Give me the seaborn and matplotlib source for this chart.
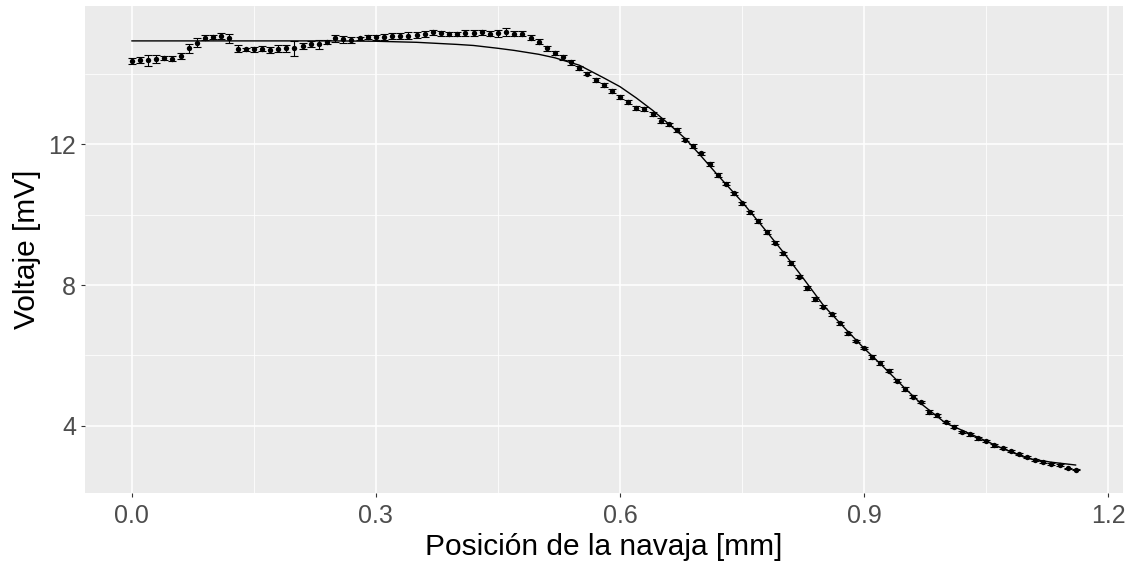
import numpy as np
import pandas as pd
import matplotlib
matplotlib.use("Agg")
import matplotlib.pyplot as plt
from matplotlib.ticker import MultipleLocator
import seaborn as sns

# ---- data ----
posicion = [
    0.00, 0.01, 0.02, 0.03, 0.04, 0.05, 0.06, 0.07, 0.08, 0.09,
    0.10, 0.11, 0.12, 0.13, 0.14, 0.15, 0.16, 0.17, 0.18, 0.19,
    0.20, 0.21, 0.22, 0.23, 0.24, 0.25, 0.26, 0.27, 0.28, 0.29,
    0.30, 0.31, 0.32, 0.33, 0.34, 0.35, 0.36, 0.37, 0.38, 0.39,
    0.40, 0.41, 0.42, 0.43, 0.44, 0.45, 0.46, 0.47, 0.48, 0.49,
    0.50, 0.51, 0.52, 0.53, 0.54, 0.55, 0.56, 0.57, 0.58, 0.59,
    0.60, 0.61, 0.62, 0.63, 0.64, 0.65, 0.66, 0.67, 0.68, 0.69,
    0.70, 0.71, 0.72, 0.73, 0.74, 0.75, 0.76, 0.77, 0.78, 0.79,
    0.80, 0.81, 0.82, 0.83, 0.84, 0.85, 0.86, 0.87, 0.88, 0.89,
    0.90, 0.91, 0.92, 0.93, 0.94, 0.95, 0.96, 0.97, 0.98, 0.99,
    1.00, 1.01, 1.02, 1.03, 1.04, 1.05, 1.06, 1.07, 1.08, 1.09,
    1.10, 1.11, 1.12, 1.13, 1.14, 1.15, 1.16,
]
voltaje = [
    14.36, 14.38, 14.38, 14.42, 14.45, 14.43, 14.51, 14.72, 14.88, 15.02,
    15.05, 15.07, 15.00, 14.71, 14.69, 14.69, 14.71, 14.68, 14.71, 14.72,
    14.72, 14.79, 14.83, 14.83, 14.89, 15.00, 14.97, 14.95, 15.00, 15.04,
    15.03, 15.04, 15.07, 15.07, 15.08, 15.09, 15.12, 15.17, 15.15, 15.13,
    15.12, 15.16, 15.15, 15.17, 15.14, 15.15, 15.18, 15.14, 15.13, 15.02,
    14.90, 14.72, 14.59, 14.46, 14.32, 14.16, 14.00, 13.81, 13.67, 13.51,
    13.34, 13.19, 13.02, 13.00, 12.86, 12.67, 12.56, 12.40, 12.13, 11.95,
    11.74, 11.43, 11.12, 10.88, 10.60, 10.32, 10.06, 9.82, 9.50, 9.20,
    8.90, 8.62, 8.24, 7.91, 7.61, 7.38, 7.17, 6.91, 6.63, 6.41,
    6.21, 5.95, 5.79, 5.57, 5.28, 5.05, 4.83, 4.68, 4.39, 4.30,
    4.11, 3.98, 3.84, 3.76, 3.65, 3.56, 3.45, 3.37, 3.29, 3.21,
    3.12, 3.04, 2.98, 2.91, 2.89, 2.80, 2.76,
]
error = [
    0.095, 0.09, 0.15, 0.11, 0.06, 0.06, 0.08, 0.12, 0.13, 0.07,
    0.06, 0.08, 0.12, 0.10, 0.05, 0.07, 0.07, 0.09, 0.10, 0.10,
    0.21, 0.08, 0.085, 0.12, 0.06, 0.10, 0.11, 0.08, 0.05, 0.06,
    0.08, 0.08, 0.08, 0.09, 0.10, 0.09, 0.08, 0.07, 0.07, 0.06,
    0.06, 0.08, 0.08, 0.08, 0.08, 0.10, 0.11, 0.07, 0.07, 0.07,
    0.07, 0.07, 0.06, 0.08, 0.07, 0.06, 0.05, 0.06, 0.06, 0.05,
    0.05, 0.06, 0.05, 0.05, 0.05, 0.06, 0.05, 0.05, 0.05, 0.05,
    0.04, 0.05, 0.05, 0.05, 0.05, 0.05, 0.05, 0.05, 0.05, 0.04,
    0.05, 0.05, 0.04, 0.05, 0.05, 0.04, 0.05, 0.04, 0.05, 0.04,
    0.04, 0.05, 0.05, 0.04, 0.04, 0.05, 0.04, 0.04, 0.05, 0.04,
    0.04, 0.04, 0.03, 0.04, 0.04, 0.03, 0.04, 0.03, 0.03, 0.03,
    0.03, 0.03, 0.03, 0.03, 0.03, 0.02, 0.02,
]

# fitted curve
ajuste_x = [0.00, 0.10, 0.20, 0.25, 0.30, 0.35, 0.40, 0.42, 0.45, 0.47,
            0.50, 0.52, 0.54, 0.55, 0.57, 0.58, 0.60, 0.62, 0.64, 0.66,
            0.68, 0.70, 0.72, 0.75, 0.78, 0.80, 0.82, 0.85, 0.88, 0.90,
            0.92, 0.95, 0.97, 1.00, 1.02, 1.05, 1.07, 1.10, 1.13, 1.16]
ajuste_y = [14.93, 14.93, 14.93, 14.93, 14.92, 14.89, 14.83, 14.80, 14.72, 14.66,
            14.55, 14.45, 14.31, 14.24, 14.00, 13.88, 13.63, 13.31, 12.96, 12.57,
            12.16, 11.65, 11.12, 10.36, 9.52, 8.95, 8.35, 7.42, 6.68, 6.20,
            5.76, 5.07, 4.63, 4.08, 3.88, 3.57, 3.36, 3.08, 2.97, 2.89]

x_ticks = [0.0, 0.3, 0.6, 0.9, 1.2]
x_ticklabels = ["0.0", "0.3", "0.6", "0.9", "1.2"]
y_ticks = [4, 8, 12]
y_ticklabels = ["4", "8", "12"]

df = pd.DataFrame({"x": posicion, "v": voltaje, "err": error})
fit = pd.DataFrame({"x": ajuste_x, "v": ajuste_y})

# ---- style (ggplot2 theme_gray look) ----
sns.set_theme(style="darkgrid", rc={
    "axes.facecolor": "#EBEBEB",
    "grid.color": "white",
    "axes.edgecolor": "#EBEBEB",
})
plt.rcParams["font.family"] = ["Liberation Sans", "DejaVu Sans"]

fig = plt.figure(figsize=(11.3, 5.63), dpi=100)
ax = fig.add_axes([0.0748, 0.1252, 0.9190, 0.8641])

ax.errorbar(df["x"], df["v"], yerr=df["err"], fmt="none", ecolor="black",
            elinewidth=0.8, capsize=2.8, capthick=0.8, zorder=3)
sns.scatterplot(data=df, x="x", y="v", ax=ax, color="black", s=15,
                edgecolor="black", linewidth=0, zorder=4)
sns.lineplot(data=fit, x="x", y="v", ax=ax, color="black", linewidth=1.0,
             zorder=5)

ax.set_xlim(-0.058, 1.218)
ax.set_ylim(2.11, 15.92)
ax.set_xticks(x_ticks)
ax.set_xticklabels(x_ticklabels)
ax.set_yticks(y_ticks)
ax.set_yticklabels(y_ticklabels)
ax.xaxis.set_minor_locator(MultipleLocator(0.15))
ax.yaxis.set_minor_locator(MultipleLocator(2))

ax.grid(which="major", color="white", linewidth=1.1)
ax.grid(which="minor", color="white", linewidth=0.55)
ax.set_axisbelow(True)
for s in ax.spines.values():
    s.set_visible(False)

ax.tick_params(axis="both", which="major", length=3.2, width=0.8,
               color="#333333", labelcolor="#4D4D4D", labelsize=18, pad=3,
               bottom=True, left=True)
ax.tick_params(axis="x", which="major", pad=5)
ax.tick_params(axis="both", which="minor", length=0)

ax.set_xlabel("Posición de la navaja [mm]", fontsize=21.5, color="black",
              labelpad=4)
ax.set_ylabel("Voltaje [mV]", fontsize=21.5, color="black", labelpad=5)

fig.savefig("out.png", dpi=100)
